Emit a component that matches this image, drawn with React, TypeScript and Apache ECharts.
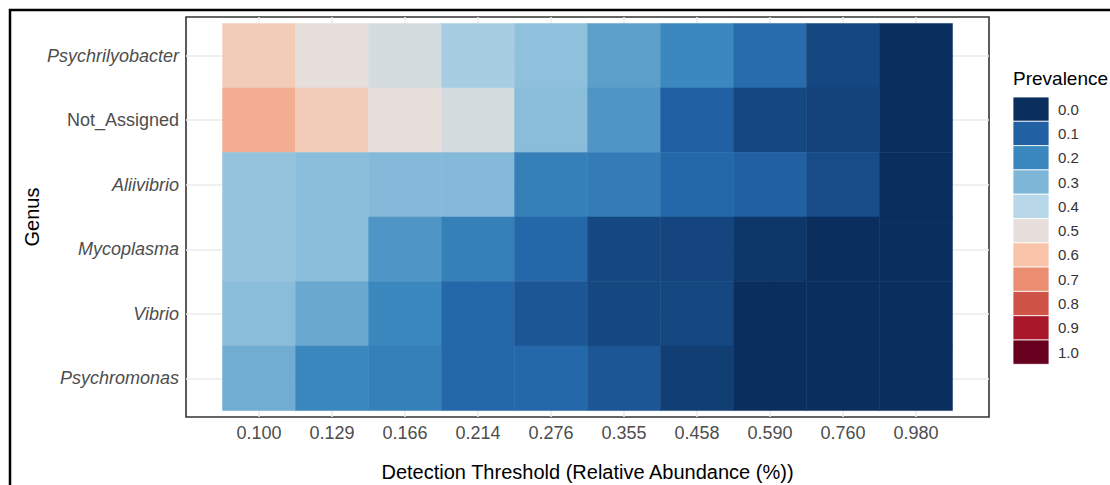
import React, { useEffect, useRef } from "react";
import * as echarts from "echarts";

// Detection thresholds (x) and genera (y, listed top to bottom)
const thresholds = ["0.100", "0.129", "0.166", "0.214", "0.276", "0.355", "0.458", "0.590", "0.760", "0.980"];
const genera = ["Psychrilyobacter", "Not_Assigned", "Aliivibrio", "Mycoplasma", "Vibrio", "Psychromonas"];
const italicGenera = ["Psychrilyobacter", "Aliivibrio", "Mycoplasma", "Vibrio", "Psychromonas"];

// Prevalence per genus across thresholds
const psychrilyobacter = [0.57, 0.5, 0.46, 0.37, 0.33, 0.25, 0.2, 0.13, 0.05, 0.0];
const notAssigned = [0.64, 0.57, 0.5, 0.46, 0.32, 0.23, 0.1, 0.05, 0.04, 0.0];
const aliivibrio = [0.34, 0.32, 0.31, 0.31, 0.18, 0.17, 0.12, 0.1, 0.06, 0.0];
const mycoplasma = [0.34, 0.32, 0.23, 0.18, 0.12, 0.05, 0.045, 0.015, 0.0, 0.0];
const vibrio = [0.32, 0.27, 0.2, 0.12, 0.08, 0.05, 0.05, 0.0, 0.0, 0.0];
const psychromonas = [0.28, 0.2, 0.18, 0.12, 0.12, 0.08, 0.03, 0.0, 0.0, 0.0];
const prevalenceRows = [psychrilyobacter, notAssigned, aliivibrio, mycoplasma, vibrio, psychromonas];

// Legend steps and the colour ramp (0 = blue, 1 = red)
const legendValues = ["0.0", "0.1", "0.2", "0.3", "0.4", "0.5", "0.6", "0.7", "0.8", "0.9", "1.0"];
const legendColors = [
  "#0A2F5F", "#2060A3", "#3B88BF", "#7EB6D7", "#B8D7E8", "#E6DFDB",
  "#F9C4A9", "#EA8D70", "#CF5447", "#A9182A", "#67001F",
];

const FONT = "'Liberation Sans', Arial, sans-serif";

export default function App() {
  const ref = useRef<HTMLDivElement>(null);

  useEffect(() => {
    if (!ref.current) return;
    const chart = echarts.init(ref.current, null, { renderer: "svg" });

    const n = genera.length;
    const data: number[][] = [];
    prevalenceRows.forEach((row, r) => {
      row.forEach((v, c) => data.push([c, n - 1 - r, v]));
    });

    const xIdx = thresholds.map((_, i) => i);
    const yIdx = genera.map((_, i) => i);

    const legendTop = 97;
    const keyH = 24.3;
    const legendGraphics: any[] = [
      {
        type: "text",
        left: 1013,
        top: 69,
        style: { text: "Prevalence", font: `19px ${FONT}`, fill: "#000" },
      },
    ];
    legendValues.forEach((lab, i) => {
      legendGraphics.push({
        type: "rect",
        shape: { x: 1013, y: legendTop + i * keyH, width: 36, height: keyH },
        style: { fill: legendColors[i], stroke: "#fff", lineWidth: 0.8 },
      });
      legendGraphics.push({
        type: "text",
        x: 1058,
        y: legendTop + i * keyH + keyH / 2,
        style: {
          text: lab,
          font: `15px ${FONT}`,
          fill: "#333",
          verticalAlign: "middle",
          align: "left",
        },
      });
    });

    chart.setOption({
      animation: false,
      backgroundColor: "#fff",
      grid: {
        left: 186,
        top: 17,
        width: 803,
        height: 400,
        outerBoundsMode: "none",
        containLabel: false,
        show: true,
        borderColor: "#333",
        borderWidth: 1.6,
        backgroundColor: "transparent",
      },
      xAxis: {
        type: "value",
        min: -1,
        max: 10,
        interval: 1,
        name: "Detection Threshold (Relative Abundance (%))",
        nameLocation: "middle",
        nameGap: 45,
        nameMoveOverlap: false,
        nameTextStyle: { fontFamily: FONT, fontSize: 20, color: "#000" },
        axisLine: { show: false },
        axisTick: {
          show: true,
          length: 5,
          customValues: xIdx,
          lineStyle: { color: "#333", width: 1.6 },
        },
        axisLabel: {
          customValues: xIdx,
          margin: 7,
          fontFamily: FONT,
          fontSize: 18,
          color: "#4D4D4D",
          formatter: (v: number) => thresholds[Math.round(v)] ?? "",
        },
        splitLine: { show: true, lineStyle: { color: "#EBEBEB", width: 1.5 } },
      },
      yAxis: {
        type: "value",
        min: -0.6,
        max: n - 0.4,
        name: "Genus",
        nameLocation: "middle",
        nameGap: 144,
        nameMoveOverlap: false,
        nameRotate: 90,
        nameTextStyle: { fontFamily: FONT, fontSize: 20, color: "#000" },
        axisLine: { show: false },
        axisTick: {
          show: true,
          length: 5,
          customValues: yIdx,
          lineStyle: { color: "#333", width: 1.6 },
        },
        axisLabel: {
          customValues: yIdx,
          margin: 7,
          fontFamily: FONT,
          fontSize: 18,
          color: "#4D4D4D",
          formatter: (v: number) => {
            const name = genera[n - 1 - Math.round(v)] ?? "";
            return italicGenera.includes(name) ? `{i|${name}}` : `{n|${name}}`;
          },
          rich: {
            i: { fontStyle: "italic", fontFamily: FONT, fontSize: 18, color: "#4D4D4D" },
            n: { fontFamily: FONT, fontSize: 18, color: "#4D4D4D" },
          },
        },
        splitLine: { show: true, lineStyle: { color: "#EBEBEB", width: 1.5 } },
      },
      visualMap: {
        show: false,
        type: "continuous",
        min: 0,
        max: 1,
        dimension: 2,
        seriesIndex: 0,
        inRange: { color: legendColors },
      },
      series: [
        {
          type: "custom",
          data,
          encode: { x: 0, y: 1 },
          renderItem: (params: any, api: any) => {
            const x = api.value(0);
            const y = api.value(1);
            const p0 = api.coord([x - 0.5, y + 0.5]);
            const p1 = api.coord([x + 0.5, y - 0.5]);
            return {
              type: "rect",
              shape: { x: p0[0], y: p0[1], width: p1[0] - p0[0], height: p1[1] - p0[1] },
              style: { fill: api.visual("color"), stroke: api.visual("color"), lineWidth: 0.5 },
            };
          },
          z: 3,
        },
      ],
      graphic: [
        {
          type: "rect",
          shape: { x: 10, y: 10, width: 1200, height: 600 },
          style: { fill: "none", stroke: "#000", lineWidth: 2.5 },
          silent: true,
          z: 100,
        },
        ...legendGraphics,
      ],
    });

    return () => chart.dispose();
  }, []);

  return (
    <div
      ref={ref}
      style={{ position: "fixed", left: 0, top: 0, width: 1110, height: 485, background: "#fff" }}
    />
  );
}
